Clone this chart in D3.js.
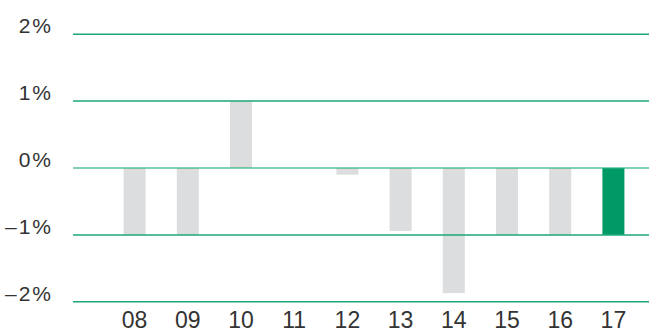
<!DOCTYPE html>
<html>
<head>
<meta charset="utf-8">
<script src="https://cdn.jsdelivr.net/npm/d3@7"></script>
<style>
  body { margin: 0; background: #fff; }
  text { font-family: "Liberation Sans", Arial, sans-serif; fill: #333; }
</style>
</head>
<body>
<div id="container"></div>
<script>
'use strict';

const width = 649,
      height = 333;

// data
const years = ["08", "09", "10", "11", "12", "13", "14", "15", "16", "17"];
const values = [-1, -1, 1, 0, -0.1, -0.94, -1.87, -1, -1, -1];
const highlight = ["17"];
const yTicks = [2, 1, 0, -1, -2];
const yTickLabels = ["2%", "1%", "0%", "–1%", "–2%"];

const data = years.map((y, i) => ({year: y, value: values[i]}));

const xScale = d3.scaleBand()
  .domain(years)
  .range([108, 640])
  .paddingInner(0.586)
  .paddingOuter(0.293);

const yScale = d3.scaleLinear()
  .domain([-2, 2])
  .range([301.8, 34.2]);

const svg = d3.select("#container")
  .append("svg")
  .attr("width", width)
  .attr("height", height);

// bars
svg.selectAll(".bar")
  .data(data.filter(d => d.value !== 0))
  .join("rect")
  .attr("class", "bar")
  .attr("x", d => xScale(d.year))
  .attr("width", xScale.bandwidth())
  .attr("y", d => yScale(Math.max(0, d.value)))
  .attr("height", d => Math.abs(yScale(d.value) - yScale(0)))
  .attr("fill", d => highlight.includes(d.year) ? "#009a66" : "#dcdddf");

// gridlines on top of bars
svg.selectAll(".grid")
  .data(yTicks)
  .join("line")
  .attr("class", "grid")
  .attr("x1", 73)
  .attr("x2", width)
  .attr("y1", d => yScale(d))
  .attr("y2", d => yScale(d))
  .attr("stroke", d => d === 0 ? "#2db37c" : "#1aa874")
  .attr("stroke-opacity", d => d === 0 ? 0.6 : 1)
  .attr("stroke-width", d => d === 0 ? 2.2 : 1.5);

// y labels
svg.selectAll(".ylabel")
  .data(yTicks)
  .join("text")
  .attr("class", "ylabel")
  .attr("x", 53)
  .attr("y", d => yScale(d) - 1)
  .attr("text-anchor", "end")
  .attr("font-size", 21)
  .attr("letter-spacing", 2)
  .text((d, i) => yTickLabels[i]);

// x labels
const xAxis = d3.axisBottom(xScale).tickSize(0).tickPadding(0);
svg.append("g")
  .attr("class", "axis x-axis")
  .attr("transform", "translate(0, 311.5)")
  .call(xAxis)
  .call(g => g.select(".domain").remove())
  .selectAll("text")
    .attr("font-size", 23)
    .attr("fill", "#333")
    .attr("font-family", "Liberation Sans, Arial, sans-serif");
</script>
</body>
</html>
